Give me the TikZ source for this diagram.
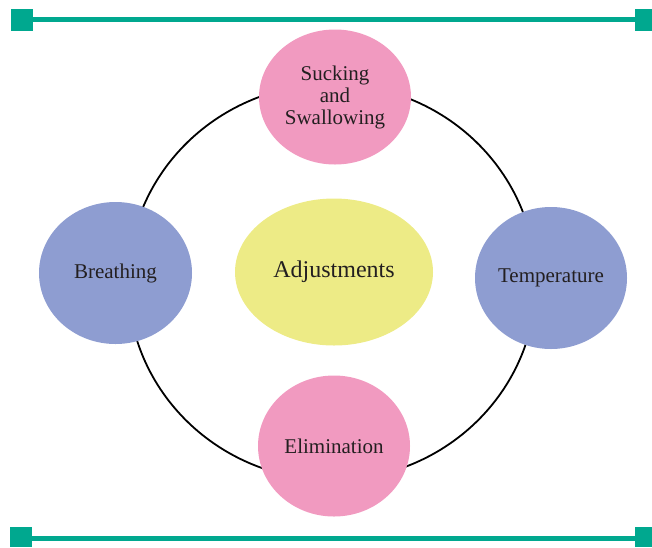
\documentclass[tikz,border=0pt]{standalone}
\usepackage{fontspec}
\setmainfont{Liberation Serif}
\usetikzlibrary{shapes.geometric}
\definecolor{barteal}{RGB}{0,168,143}
\definecolor{pinkfill}{RGB}{241,154,192}
\definecolor{bluefill}{RGB}{142,157,209}
\definecolor{yellowfill}{RGB}{237,235,134}
\definecolor{textdark}{RGB}{35,31,32}
\tikzset{
  bub/.style={ellipse, inner sep=0pt, text=textdark, align=center,
    font=\fontsize{21}{22}\selectfont},
  endsq/.style={fill=barteal, draw=none},
  barline/.style={draw=barteal, line width=5.5pt},
  ring/.style={draw=black, line width=1.8pt}
}
\begin{document}
\begin{tikzpicture}[x=1pt,y=-1pt]
\useasboundingbox (0,0) rectangle (652,547);
% top and bottom bars
\fill[endsq] (11,9) rectangle (33,31);
\fill[endsq] (635,9) rectangle (652,31);
\draw[barline] (33,19.5) -- (635,19.5);
\fill[endsq] (10,527) rectangle (32,547);
\fill[endsq] (635,527) rectangle (652,547);
\draw[barline] (32,538.5) -- (635,538.5);
% ring
\coordinate (ringc) at (332,282);
\draw[ring] (ringc) ellipse [x radius=204, y radius=198];
% nodes
\node[bub, fill=pinkfill, minimum width=152pt, minimum height=135pt] (suck) at (335,97) {Sucking\\and\\Swallowing};
\node[bub, fill=bluefill, minimum width=153pt, minimum height=142pt] (breath) at (115.5,273) {Breathing};
\node[bub, fill=bluefill, minimum width=152pt, minimum height=142pt] (temp) at (551,278) {Temperature};
\node[bub, fill=yellowfill, minimum width=198pt, minimum height=147pt, font=\fontsize{24}{26}\selectfont] (adj) at (334,272) {Adjustments};
\node[bub, fill=pinkfill, minimum width=152pt, minimum height=141pt] (elim) at (334,446) {Elimination};
\end{tikzpicture}
\end{document}
